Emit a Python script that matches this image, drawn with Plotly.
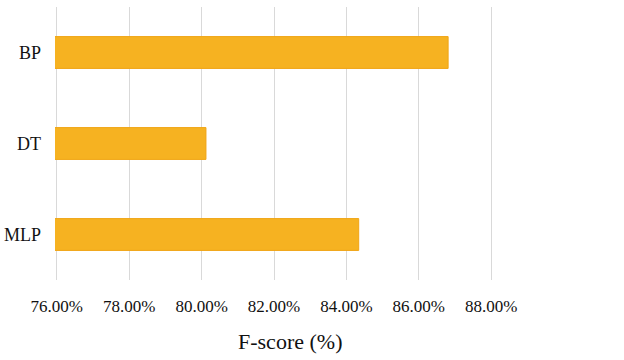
import plotly.graph_objects as go

models = ["BP", "DT", "MLP"]
fscore = [0.8681, 0.8012, 0.8434]
axis_title = "F-score (%)"

SERIF = "Liberation Serif"

fig = go.Figure()
fig.add_trace(go.Bar(
    x=fscore, y=models, orientation="h",
    width=0.35,
    marker=dict(color="#F6B221", line=dict(color="#F0A515", width=1)),
))

fig.update_layout(
    width=624, height=360,
    margin=dict(l=55, r=131, t=7, b=80),
    plot_bgcolor="white", paper_bgcolor="white",
    showlegend=False,
    font=dict(family=SERIF, color="#111111"),
    bargap=0.65,
)
fig.update_xaxes(
    range=[0.7595, 0.8805], dtick=0.02, tick0=0.76, tickformat=".2%",
    showgrid=True, gridcolor="#D9D9D9", gridwidth=1,
    zeroline=False, showline=False, ticks="", automargin=False,
    ticklabelstandoff=14,
    tickfont=dict(size=17, family=SERIF),
)
fig.update_yaxes(
    categoryorder="array", categoryarray=models, autorange="reversed",
    showgrid=False, zeroline=False, showline=False, ticks="", automargin=False,
    ticklabelstandoff=13,
    tickfont=dict(size=18, family=SERIF),
)
fig.add_annotation(
    text=axis_title, xref="paper", yref="paper", x=0.536, y=0,
    yshift=-61, yanchor="middle", xanchor="center", showarrow=False,
    font=dict(size=22, family=SERIF, color="#111111"),
)

fig.write_html("out.html", config={"displayModeBar": False},
               post_script="document.body.style.margin='0';")
